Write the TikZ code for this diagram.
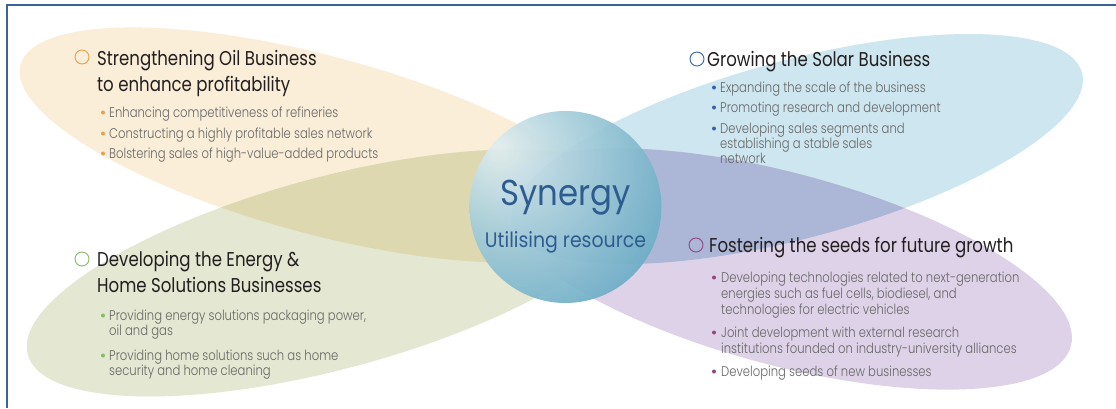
\documentclass[tikz,border=0pt]{standalone}
\usepackage{fontspec}
\setmainfont{Poppins}
\newfontfamily\headfont{Poppins}[FakeStretch=0.83]
\newfontfamily\bodyfont{Poppins}[FakeStretch=0.83, UprightFont=* Light]
\newfontfamily\synfont{Poppins}[FakeStretch=0.9]

\definecolor{framec}{HTML}{3D6398}
\definecolor{oilc}{HTML}{FAEED8}
\definecolor{homec}{HTML}{E4E7D1}
\definecolor{oilhomec}{HTML}{DED8B0}
\definecolor{solarc}{HTML}{CEE6EF}
\definecolor{seedc}{HTML}{DED2E8}
\definecolor{solarseedc}{HTML}{ACB7D7}
\definecolor{headc}{HTML}{231F20}
\definecolor{bulc}{HTML}{666666}
\definecolor{sync}{HTML}{2F5C8F}
\definecolor{mkorange}{HTML}{E9A04A}
\definecolor{mkblue}{HTML}{3A62A8}
\definecolor{mkgreen}{HTML}{86BB63}
\definecolor{mkpurple}{HTML}{94457F}
\definecolor{ballA}{HTML}{E2EEF0}
\definecolor{ballB}{HTML}{AAD0DC}
\definecolor{ballC}{HTML}{72B0C8}
\definecolor{ballD}{HTML}{5299B8}

\pgfdeclareradialshading{synball}{\pgfpoint{-18bp}{16bp}}{%
  color(0bp)=(ballA); color(18bp)=(ballB); color(38bp)=(ballC);
  color(50bp)=(ballD); color(100bp)=(ballD)}

\tikzset{
  heading/.style={font=\headfont\fontsize{20}{24}\selectfont, text=headc,
    anchor=base west, inner sep=0pt},
  bullet/.style={font=\bodyfont\fontsize{14}{16}\selectfont, text=bulc,
    anchor=base west, inner sep=0pt},
  marker/.style={draw=#1, line width=0.9pt, fill=none},
  dot/.style={fill=#1},
}

\begin{document}
\begin{tikzpicture}[x=1pt,y=-1pt]
\useasboundingbox (0,0) rectangle (1116,408);
\fill[white] (0,0) rectangle (1116,408);

% four petals
\fill[oilc, rotate around={-15:(320,145)}] (320,145) ellipse [x radius=310, y radius=89];
\fill[homec, rotate around={15:(332,273)}] (332,273) ellipse [x radius=315, y radius=96];
\begin{scope}
  \clip[rotate around={-15:(320,145)}] (320,145) ellipse [x radius=310, y radius=89];
  \fill[oilhomec, rotate around={15:(332,273)}] (332,273) ellipse [x radius=315, y radius=96];
\end{scope}
\fill[solarc, rotate around={15:(797,149)}] (797,149) ellipse [x radius=295, y radius=89];
\fill[seedc, rotate around={-15:(783,269)}] (783,269) ellipse [x radius=298, y radius=96];
\begin{scope}
  \clip[rotate around={15:(797,149)}] (797,149) ellipse [x radius=295, y radius=89];
  \fill[solarseedc, rotate around={-15:(783,269)}] (783,269) ellipse [x radius=298, y radius=96];
\end{scope}

% frame
\draw[framec, line width=2.4pt] (7,408) -- (7,5) -- (1116,5);

% centre ball
\shade[shading=synball, fill opacity=0.93] (565.5,207) circle [radius=96];
\node[font=\synfont\fontsize{36}{40}\selectfont, text=sync, anchor=base, inner sep=0pt]
  (syn) at (565.5,205) {Synergy};
\node[font=\synfont\fontsize{21}{24}\selectfont, text=sync, anchor=base, inner sep=0pt]
  (res) at (565.5,247) {Utilising resource};

% oil
\draw[marker=mkorange] (82,57) circle [radius=7];
\node[heading] (oilh1) at (97,65) {Strengthening Oil Business};
\node[heading] (oilh2) at (97,91) {to enhance profitability};
\fill[dot=mkorange] (103,112.5) circle [radius=2];
\node[bullet] (oilb1) at (109,117) {Enhancing competitiveness of refineries};
\fill[dot=mkorange] (103,133.5) circle [radius=2];
\node[bullet] (oilb2) at (109,138) {Constructing a highly profitable sales network};
\fill[dot=mkorange] (103,153.5) circle [radius=2];
\node[bullet] (oilb3) at (109,158) {Bolstering sales of high-value-added products};

% solar
\draw[marker=mkblue] (697,59) circle [radius=7];
\node[heading] (solh) at (707,66) {Growing the Solar Business};
\fill[dot=mkblue] (714,87.5) circle [radius=2];
\node[bullet] (solb1) at (720,92) {Expanding the scale of the business};
\fill[dot=mkblue] (714,107.5) circle [radius=2];
\node[bullet] (solb2) at (720,112) {Promoting research and development};
\fill[dot=mkblue] (714,128.5) circle [radius=2];
\node[bullet] (solb3) at (720,133) {Developing sales segments and};
\node[bullet] (solb3b) at (720,148) {establishing a stable sales};
\node[bullet] (solb3c) at (720,163) {network};

% energy & home
\draw[marker=mkgreen] (82,259) circle [radius=7];
\node[heading] (homh1) at (97,266) {Developing the Energy \&};
\node[heading] (homh2) at (97,292) {Home Solutions Businesses};
\fill[dot=mkgreen] (103,315.5) circle [radius=2];
\node[bullet] (homb1) at (109,320) {Providing energy solutions packaging power,};
\node[bullet] (homb1b) at (109,335) {oil and gas};
\fill[dot=mkgreen] (103,355.5) circle [radius=2];
\node[bullet] (homb2) at (109,360) {Providing home solutions such as home};
\node[bullet] (homb2b) at (109,375) {security and home cleaning};

% seeds
\draw[marker=mkpurple] (696,245) circle [radius=7];
\node[heading] (seeh) at (709,252) {Fostering the seeds for future growth};
\fill[dot=mkpurple] (714,277.5) circle [radius=2];
\node[bullet] (seeb1) at (721,282) {Developing technologies related to next-generation};
\node[bullet] (seeb1b) at (721,298) {energies such as fuel cells, biodiesel, and};
\node[bullet] (seeb1c) at (721,314) {technologies for electric vehicles};
\fill[dot=mkpurple] (714,332.5) circle [radius=2];
\node[bullet] (seeb2) at (721,337) {Joint development with external research};
\node[bullet] (seeb2b) at (721,353) {institutions founded on industry-university alliances};
\fill[dot=mkpurple] (714,371.5) circle [radius=2];
\node[bullet] (seeb3) at (721,376) {Developing seeds of new businesses};
\end{tikzpicture}
\end{document}
